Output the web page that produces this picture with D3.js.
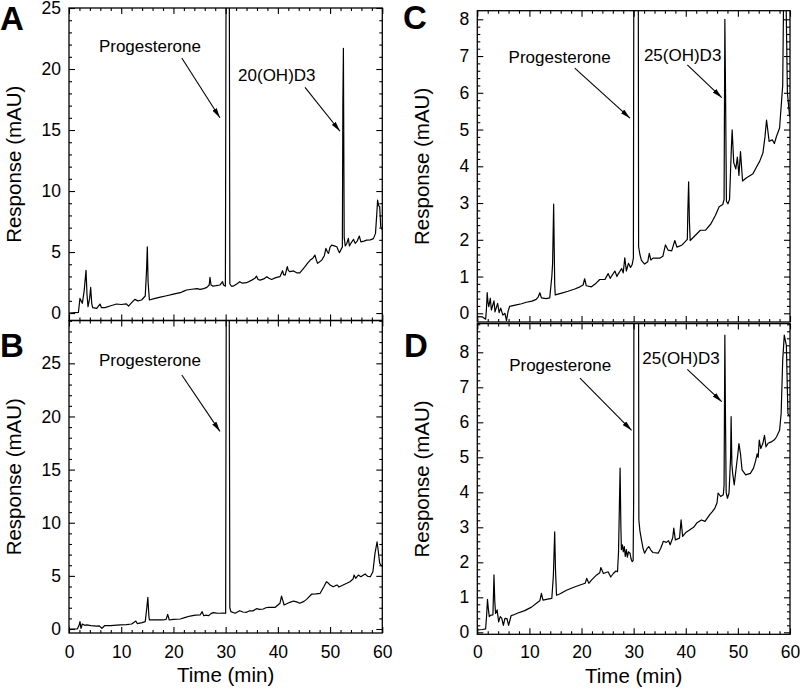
<!DOCTYPE html>
<html>
<head>
<meta charset="utf-8">
<script src="https://cdn.jsdelivr.net/npm/d3@7"></script>
<style>
  body { margin: 0; background: #fff; }
  svg text { font-family: "Liberation Sans", Arial, Helvetica, sans-serif; fill: #000; }
</style>
</head>
<body>
<div id="chart"></div>
<script>
// chromatogram traces, [time (min), response (mAU)]
const traceA = [
  [0,0],[1.8,0.05],[2.1,1.2],[2.55,0.8],[2.9,1.8],[3.26,3.5],[3.45,1.5],[3.64,0.52],[3.95,1.2],[4.15,2.1],
  [4.35,0.8],[4.53,0.45],[5.3,0.38],[5.94,0.74],[6.2,0.45],[6.9,0.45],[8.0,0.6],[9.1,0.74],[10.0,0.7],[11.0,0.75],
  [11.4,0.57],[12.0,0.85],[12.6,1.12],[13.2,1.0],[13.9,1.07],[14.6,1.4],[14.85,3.5],[15.0,5.43],[15.15,2.5],[15.4,1.07],
  [16.5,1.2],[17.5,1.3],[18.7,1.42],[20.0,1.55],[21.3,1.67],[22.0,1.8],[22.5,1.89],[23.5,1.95],[24.5,2.0],[25.1,1.94],
  [25.8,2.0],[26.4,2.1],[26.85,2.3],[27.0,2.92],[27.2,2.3],[27.5,2.21],[28.2,2.25],[28.9,2.3],[29.2,2.45],[29.4,2.57],
  [29.6,2.3],[29.95,2.2],[30.15,40],[30.65,40],[30.8,2.4],[31.1,2.2],[31.5,2.21],[32.2,2.4],[32.7,2.57],[33.2,2.45],
  [34.0,2.49],[35.0,2.7],[35.6,2.85],[35.9,3.03],[36.2,2.75],[36.6,2.7],[37.3,2.8],[37.9,2.98],[38.3,2.85],[38.8,2.75],
  [39.6,2.9],[40.4,2.98],[40.9,3.47],[41.1,3.15],[41.4,3.11],[41.8,3.8],[42.0,3.5],[42.3,3.39],[43.0,3.45],[43.6,3.3],
  [44.2,3.3],[44.8,3.6],[45.2,3.8],[45.7,4.1],[46.2,4.34],[46.7,4.5],[47.1,4.75],[47.4,4.3],[47.6,4.07],[48.0,4.2],
  [48.4,4.34],[48.9,4.7],[49.2,5.3],[49.5,5.0],[49.7,4.89],[50.0,5.4],[50.3,5.57],[50.8,5.5],[51.3,5.43],[51.6,5.1],
  [51.8,4.95],[52.2,5.3],[52.35,5.4],[52.45,17.3],[52.55,21.7],[52.7,6.2],[52.9,5.5],[53.2,5.7],[53.5,6.12],[53.7,5.5],
  [54.1,5.8],[54.5,6.04],[54.8,5.71],[55.2,5.9],[55.6,6.31],[55.9,5.84],[56.5,5.9],[57.0,5.98],[57.7,6.0],[58.3,6.1],
  [58.7,6.53],[59.0,8.5],[59.1,9.26],[59.3,8.8],[59.5,8.71],[59.7,7.07],[60,6.8]
];

const traceB = [
  [0,0],[1.6,0.02],[1.9,0.3],[2.1,0.69],[2.3,0.06],[2.55,0.47],[3.0,0.35],[3.4,0.38],[4.2,0.32],[5.3,0.28],
  [5.8,0.3],[6.3,0.06],[6.8,0.31],[8.0,0.32],[9.8,0.38],[11.0,0.42],[12.0,0.47],[12.8,0.75],[13.1,0.5],[14.0,0.6],
  [14.6,0.69],[14.9,2.0],[15.1,2.98],[15.3,1.2],[15.4,0.85],[16.8,0.85],[18.0,0.85],[18.6,0.9],[18.9,1.38],[19.2,0.85],
  [20.0,0.9],[21.3,0.94],[22.3,1.1],[23.2,1.22],[24.2,1.3],[25.1,1.32],[25.5,1.63],[25.8,1.25],[26.3,1.3],[26.7,1.25],
  [27.2,1.45],[27.6,1.54],[28.3,1.5],[28.9,1.48],[29.5,1.5],[30.0,1.48],[30.15,40],[30.65,40],[30.8,2.0],[31.0,1.63],
  [31.8,1.48],[32.7,1.72],[33.3,1.6],[34.0,1.57],[34.6,1.72],[35.2,1.7],[35.9,1.91],[36.5,1.85],[37.2,1.88],[37.7,2.0],
  [38.2,2.04],[39.5,2.04],[40.4,2.42],[40.7,3.1],[41.2,2.26],[42.3,2.51],[43.0,2.63],[43.6,2.55],[44.2,2.42],[45.0,2.6],
  [45.5,2.79],[46.5,3.29],[47.3,3.3],[48.1,3.36],[48.8,3.98],[49.3,4.45],[49.7,4.3],[50.0,4.14],[50.6,3.98],[51.1,4.1],
  [51.4,4.14],[51.7,3.95],[52.5,4.14],[53.2,4.3],[53.8,4.45],[54.4,4.7],[54.6,5.08],[54.9,4.77],[55.4,5.08],[55.9,4.92],
  [56.7,5.18],[57.2,4.95],[57.7,4.92],[58.2,5.39],[58.6,7.12],[59.0,8.21],[59.2,7.43],[59.5,6.18],[60,5.86]
];

const traceC = [
  [0,-0.09],[1.0,-0.1],[1.6,-0.16],[1.75,0.1],[1.9,0.56],[2.05,0.3],[2.2,0.18],[2.5,0.41],[2.7,0.09],[3.2,0.34],
  [3.4,0.04],[3.9,0.27],[4.2,0.02],[4.5,0.14],[4.9,-0.05],[5.3,0.0],[5.6,-0.2],[5.9,0.05],[6.2,0.19],[7.5,0.23],
  [8.5,0.26],[9.4,0.3],[10.5,0.33],[11.3,0.38],[11.7,0.45],[12.0,0.56],[12.3,0.42],[13.2,0.4],[13.9,0.42],[14.3,1.0],
  [14.45,1.36],[14.65,2.97],[14.85,0.8],[14.95,0.5],[16.2,0.55],[17.4,0.6],[18.7,0.66],[19.7,0.72],[20.3,0.77],[20.6,0.94],
  [20.9,0.75],[21.9,0.72],[22.8,0.82],[23.5,0.92],[24.5,0.92],[25.1,1.08],[25.5,0.95],[25.8,1.02],[26.4,1.15],[26.8,1.0],
  [27.0,1.06],[27.7,1.22],[28.0,1.1],[28.3,1.51],[28.6,1.15],[29.0,1.36],[29.4,1.25],[29.7,1.32],[29.95,1.5],[30.15,20],
  [30.8,20],[30.95,1.81],[31.2,1.6],[31.5,1.44],[32.1,1.34],[32.7,1.4],[33.0,1.63],[33.3,1.45],[33.7,1.5],[35.0,1.5],
  [35.6,1.55],[36.1,1.86],[36.6,1.72],[37.3,1.7],[37.9,1.98],[38.3,1.8],[39.3,1.86],[40.3,2.01],[40.4,2.8],[40.55,3.58],
  [40.7,2.5],[40.85,1.98],[41.9,2.13],[42.8,2.26],[43.8,2.26],[44.8,2.43],[45.7,2.67],[46.4,2.9],[47.1,2.96],[47.35,3.1],
  [47.5,8.0],[47.65,5.72],[47.8,3.05],[48.1,2.98],[48.4,3.1],[48.75,4.5],[48.9,4.99],[49.2,4.1],[49.6,3.93],[49.9,4.25],
  [50.2,3.75],[50.5,4.4],[50.9,3.6],[51.6,3.68],[52.9,3.8],[53.5,3.96],[54.2,4.14],[54.8,4.36],[55.2,4.8],[55.5,5.26],
  [56.0,4.68],[56.6,4.72],[57.0,4.62],[57.4,4.81],[58.0,5.04],[58.6,6.2],[58.8,9],[59.2,9],[59.5,6.0],[59.9,5.4],[60,5.35]
];

const traceD = [
  [0,0.07],[1.0,0.08],[1.6,0.1],[1.8,0.5],[1.95,0.94],[2.1,0.7],[2.3,0.45],[2.6,0.49],[3.0,0.5],[3.2,1.64],
  [3.35,0.9],[3.5,0.54],[3.8,0.64],[4.1,0.3],[4.4,0.45],[4.7,0.4],[5.0,0.2],[5.3,0.4],[5.7,0.39],[6.0,0.2],
  [6.5,0.48],[7.0,0.5],[7.8,0.55],[9.1,0.62],[10.4,0.72],[11.6,0.86],[12.0,0.9],[12.3,1.11],[12.6,0.92],[13.5,0.95],
  [14.3,0.97],[14.6,1.63],[14.85,2.87],[15.0,1.8],[15.2,1.06],[15.9,1.1],[17.1,1.2],[18.4,1.28],[19.7,1.35],[20.7,1.4],
  [21.0,1.54],[21.4,1.4],[21.9,1.49],[22.9,1.64],[23.5,1.7],[23.7,1.85],[24.2,1.68],[25.1,1.73],[25.6,1.58],[26.1,1.68],
  [26.6,1.75],[26.9,1.73],[27.1,2.3],[27.4,4.69],[27.55,3.0],[27.65,2.36],[27.85,2.5],[28.0,2.3],[28.2,2.45],[28.4,2.17],
  [28.6,2.36],[28.8,2.15],[29.0,2.3],[29.3,2.26],[29.5,2.1],[29.7,2.02],[29.9,2.05],[30.0,3.8],[30.15,20],[30.85,20],
  [31.0,3.21],[31.2,2.9],[31.5,2.64],[31.8,2.4],[32.1,2.26],[32.6,2.4],[32.9,2.45],[33.3,2.35],[33.7,2.28],[34.7,2.26],
  [35.2,2.4],[35.7,2.6],[36.3,2.57],[36.7,2.62],[37.0,2.5],[37.5,2.7],[37.7,2.98],[38.0,2.64],[38.8,2.69],[39.1,3.21],
  [39.4,2.74],[40.0,2.85],[40.8,2.93],[41.5,3.0],[42.1,3.12],[43.0,3.21],[43.7,3.17],[44.6,3.36],[45.1,3.45],[45.6,3.55],
  [46.0,3.7],[46.2,3.98],[46.7,3.88],[47.2,3.93],[47.35,4.2],[47.5,8.49],[47.6,6.5],[47.75,4.0],[48.0,3.83],[48.3,3.98],
  [48.6,5.0],[48.7,6.16],[48.85,4.8],[49.0,4.54],[49.3,4.21],[49.7,4.73],[50.0,5.1],[50.2,5.39],[50.5,5.1],[50.8,4.64],
  [51.5,4.5],[52.4,4.54],[53.0,4.69],[53.4,4.9],[53.7,5.1],[53.9,5.0],[54.1,5.49],[54.4,5.25],[54.8,5.4],[55.1,5.63],
  [55.4,5.3],[55.8,5.4],[56.4,5.44],[57.0,5.5],[57.4,5.58],[58.0,5.77],[58.3,6.25],[58.6,7.77],[58.9,8.49],[59.3,8.2],
  [59.6,6.25],[60,6.16]
];

// tick values
const xTicks = [0, 10, 20, 30, 40, 50, 60];
const yTicksAB = [0, 5, 10, 15, 20, 25];
const yTicksCD = [0, 1, 2, 3, 4, 5, 6, 7, 8];

// peak labels: text anchor and arrow, in data units
const notesA = [
  {label: "Progesterone", tx: 15.5, ty: 21.4, from: [21.6, 20.9], to: [28.9, 16.0]},
  {label: "20(OH)D3", tx: 39.8, ty: 19.0, from: [45.2, 18.5], to: [51.9, 14.9]}
];
const notesB = [
  {label: "Progesterone", tx: 15.5, ty: 24.75, from: [21.6, 23.9], to: [28.9, 18.6]}
];
const notesC = [
  {label: "Progesterone", tx: 15.8, ty: 6.82, from: [18.7, 6.67], to: [29.3, 5.31]},
  {label: "25(OH)D3", tx: 39.4, ty: 6.87, from: [40.3, 6.76], to: [46.9, 5.87]}
];
const notesD = [
  {label: "Progesterone", tx: 15.9, ty: 7.47, from: [19.7, 7.26], to: [29.6, 5.77]},
  {label: "25(OH)D3", tx: 39.1, ty: 7.66, from: [40.3, 7.51], to: [46.9, 6.59]}
];

const FONT = '"Liberation Sans", Arial, Helvetica, sans-serif';

const svg = d3.select("#chart")
  .append("svg")
  .attr("width", 800)
  .attr("height", 692);

svg.append("rect").attr("width", 800).attr("height", 692).attr("fill", "#fff");

const defs = svg.append("defs");
defs.append("marker")
  .attr("id", "arrow")
  .attr("viewBox", "0 0 10 5")
  .attr("refX", 10)
  .attr("refY", 2.5)
  .attr("markerWidth", 10)
  .attr("markerHeight", 5)
  .attr("markerUnits", "userSpaceOnUse")
  .attr("orient", "auto")
  .append("path")
  .attr("d", "M0,0L10,2.5L0,5z")
  .attr("fill", "#000");

const xMinor = d3.range(0, 61, 2).filter(d => d % 10 !== 0);
const minorAB = d3.range(0, 30, 1).filter(d => d % 5 !== 0);
const minorCD = d3.range(0, 45, 1).filter(d => d % 5 !== 0).map(d => d / 5);

const panels = [
  {id: "A", data: traceA, notes: notesA, left: 69, right: 382.3, top: 8, bottom: 320.5,
   yDomain: [-0.61, 25], yTicks: yTicksAB, yMinor: minorAB.filter(d => d < 25), xLabels: false, letter: [0, 30]},
  {id: "B", data: traceB, notes: notesB, left: 69, right: 382.3, top: 320.5, bottom: 633,
   yDomain: [-0.376, 29.03], yTicks: yTicksAB, yMinor: minorAB, xLabels: true, letter: [0, 357]},
  {id: "C", data: traceC, notes: notesC, left: 477.3, right: 790, top: 10.7, bottom: 322,
   yDomain: [-0.237, 8.234], yTicks: yTicksCD, yMinor: minorCD.filter(d => d < 8.2), xLabels: false, letter: [403, 29]},
  {id: "D", data: traceD, notes: notesD, left: 477.3, right: 790, top: 323.6, bottom: 634.3,
   yDomain: [-0.057, 8.82], yTicks: yTicksCD, yMinor: minorCD, xLabels: true, letter: [404, 357]}
];

function styleAxis(g) {
  g.select(".domain").remove();
  g.attr("font-family", FONT).attr("font-size", 17.5);
  g.selectAll(".tick line").attr("stroke", "#000").attr("stroke-width", 1.1);
  g.selectAll(".tick text").attr("fill", "#000");
}

panels.forEach(p => {
  const x = d3.scaleLinear().domain([0, 60]).range([p.left, p.right]);
  const y = d3.scaleLinear().domain(p.yDomain).range([p.bottom, p.top]);
  const g = svg.append("g").attr("class", "panel-" + p.id);

  defs.append("clipPath").attr("id", "clip" + p.id)
    .append("rect")
    .attr("x", p.left).attr("y", p.top)
    .attr("width", p.right - p.left).attr("height", p.bottom - p.top);

  // left axis with labels, inward ticks
  g.append("g").attr("transform", `translate(${p.left},0)`)
    .call(d3.axisLeft(y).tickValues(p.yTicks).tickSize(-6).tickPadding(8).tickFormat(d3.format("d")))
    .call(styleAxis);
  g.append("g").attr("transform", `translate(${p.left},0)`)
    .call(d3.axisLeft(y).tickValues(p.yMinor).tickSize(-3).tickFormat(""))
    .call(styleAxis);

  // right mirror axis
  g.append("g").attr("transform", `translate(${p.right},0)`)
    .call(d3.axisRight(y).tickValues(p.yTicks).tickSize(-6).tickFormat(""))
    .call(styleAxis);
  g.append("g").attr("transform", `translate(${p.right},0)`)
    .call(d3.axisRight(y).tickValues(p.yMinor).tickSize(-3).tickFormat(""))
    .call(styleAxis);

  // top mirror axis
  g.append("g").attr("transform", `translate(0,${p.top})`)
    .call(d3.axisTop(x).tickValues(xTicks).tickSize(-6).tickFormat(""))
    .call(styleAxis);
  g.append("g").attr("transform", `translate(0,${p.top})`)
    .call(d3.axisTop(x).tickValues(xMinor).tickSize(-3).tickFormat(""))
    .call(styleAxis);

  // bottom axis
  g.append("g").attr("transform", `translate(0,${p.bottom})`)
    .call(d3.axisBottom(x).tickValues(xTicks).tickSize(-6).tickPadding(645.5 - p.bottom)
      .tickFormat(p.xLabels ? d3.format("d") : ""))
    .call(styleAxis);
  g.append("g").attr("transform", `translate(0,${p.bottom})`)
    .call(d3.axisBottom(x).tickValues(xMinor).tickSize(-3).tickFormat(""))
    .call(styleAxis);

  // trace
  const line = d3.line()
    .x(d => x(d[0]))
    .y(d => y(d[1]));

  g.append("path")
    .datum(p.data)
    .attr("clip-path", `url(#clip${p.id})`)
    .attr("fill", "none")
    .attr("stroke", "#000")
    .attr("stroke-width", 1.2)
    .attr("stroke-linejoin", "round")
    .attr("d", line);

  // frame
  g.append("rect")
    .attr("x", p.left).attr("y", p.top)
    .attr("width", p.right - p.left).attr("height", p.bottom - p.top)
    .attr("fill", "none")
    .attr("stroke", "#000")
    .attr("stroke-width", 1.3);

  // peak labels
  p.notes.forEach(n => {
    g.append("text")
      .attr("x", x(n.tx))
      .attr("y", y(n.ty))
      .attr("text-anchor", "middle")
      .style("font-size", "17px")
      .text(n.label);
    g.append("line")
      .attr("x1", x(n.from[0])).attr("y1", y(n.from[1]))
      .attr("x2", x(n.to[0])).attr("y2", y(n.to[1]))
      .attr("stroke", "#000")
      .attr("stroke-width", 1.1)
      .attr("marker-end", "url(#arrow)");
  });

  // y axis title
  g.append("text")
    .attr("transform", `translate(${p.left - 55},${(p.top + p.bottom) / 2}) rotate(-90)`)
    .attr("dy", "0.35em")
    .attr("text-anchor", "middle")
    .style("font-size", "20.5px")
    .text("Response (mAU)");

  // x axis title
  if (p.xLabels) {
    g.append("text")
      .attr("x", (p.left + p.right) / 2)
      .attr("y", p.bottom + 49)
      .attr("text-anchor", "middle")
      .style("font-size", "20.5px")
      .text("Time (min)");
  }

  // panel letter
  g.append("text")
    .attr("x", p.letter[0])
    .attr("y", p.letter[1])
    .style("font-size", "33px")
    .style("font-weight", "bold")
    .text(p.id);
});
</script>
</body>
</html>
